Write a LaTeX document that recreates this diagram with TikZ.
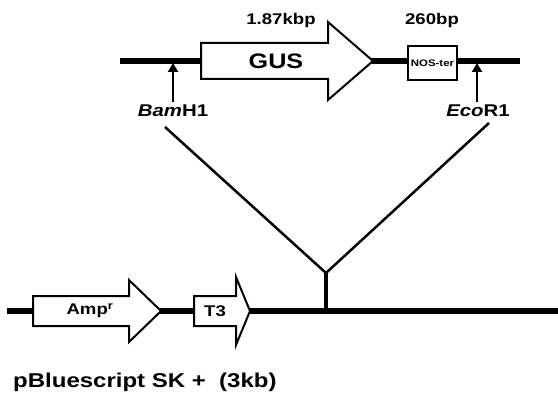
\documentclass[tikz,border=0pt]{standalone}
\usepackage{fontspec}
\setmainfont{Liberation Sans}[FakeStretch=1.2]
\usetikzlibrary{arrows.meta}

\tikzset{
  dna/.style={line width=5.5pt},
  gene/.style={draw, fill=white, line width=2pt, line join=miter},
  site/.style={line width=2.5pt, -{Triangle[length=9pt,width=10pt]}},
  insert/.style={line width=2.5pt},
  lbl/.style={inner sep=0pt, font=\bfseries}
}

\begin{document}
\begin{tikzpicture}[x=1pt,y=-1pt]
            \useasboundingbox (0,0) rectangle (558,396);
            % insert (GUS + NOS terminator)
            \coordinate (tl) at (120,61);
            \coordinate (tr) at (520,61);
            \draw[dna] (tl)--(tr);
            \draw[gene] (201,43)--(328,43)--(328,22)--(373,61)--(328,100)--(328,79)--(201,79)--cycle;
            \node[lbl, font=\bfseries\fontsize{21}{23}\selectfont] (gus) at (276,61) {GUS};
            \node[gene, minimum width=49pt, minimum height=34pt, inner sep=0pt,
                  font=\bfseries\fontsize{9.5}{11}\selectfont] (nos) at (432.5,63) {NOS-ter};
            \node[lbl, font=\bfseries\fontsize{15.5}{17}\selectfont] (kbp) at (281,20) {1.87kbp};
            \node[lbl, font=\bfseries\fontsize{15.5}{17}\selectfont] (bp) at (432,20) {260bp};
            % restriction sites
            \node[lbl, font=\bfseries\fontsize{17}{19}\selectfont] (bam) at (173,111) {\textit{Bam}H1};
            \node[lbl, font=\bfseries\fontsize{17}{19}\selectfont] (eco) at (478,111) {\textit{Eco}R1};
            \coordinate (bamtip) at (173,63);
            \coordinate (ecotip) at (477,63);
            \draw[site] (bam.north -| bamtip) ++(0,-3)--(bamtip);
            \draw[site] (eco.north -| ecotip) ++(0,-3)--(ecotip);
            % cloning lines
            \coordinate (vl) at (165,127);
            \coordinate (vr) at (489,123);
            \coordinate (vj) at (326,273);
            \coordinate (vb) at (326,311);
            \draw[insert] (vl)--(vj)--(vr);
            \draw[line width=4pt] (vj)--(vb);
            % vector
            \coordinate (bl) at (7,311);
            \coordinate (br) at (558,311);
            \draw[dna] (bl)--(br);
            \draw[gene] (33,296)--(129,296)--(129,280)--(161,311)--(129,342)--(129,326)--(33,326)--cycle;
            \node[lbl, font=\bfseries\fontsize{15.5}{17}\selectfont] (amp) at (90,311) {Amp\textsuperscript{r}};
            \draw[gene] (194,296)--(236,296)--(236,277)--(250,311)--(236,345)--(236,326)--(194,326)--cycle;
            \node[lbl, font=\bfseries\fontsize{15.5}{17}\selectfont] (t3) at (215,311) {T3};
            \node[lbl, anchor=base west, font=\bfseries\fontsize{20}{22}\selectfont] (vec) at (13,387) {pBluescript SK +\ \ (3kb)};
        \end{tikzpicture}
\end{document}
